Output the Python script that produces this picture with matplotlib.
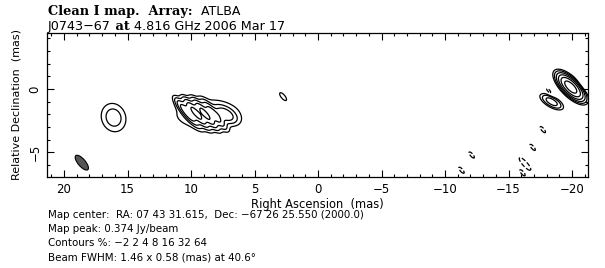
import numpy as np
import matplotlib
matplotlib.use('Agg')
import matplotlib.pyplot as plt
from matplotlib.patches import Ellipse
from matplotlib.ticker import MultipleLocator

# ---- data: model components (RA offset mas, Dec offset mas, peak %, FWHM maj/min mas, PA deg)
comp_ra   = [-19.9, -18.4, 10.3, 9.6, 8.9, 8.2, 8.7, 7.3, 16.1, 2.75]
comp_dec  = [0.15, -1.0, -1.85, -1.9, -1.95, -2.0, -2.0, -2.0, -2.25, -0.6]
comp_peak = [26.0, 12.0, 26.0, 40.0, 38.0, 22.0, 4.0, 12.0, 6.0, 2.4]
comp_peak[0] = 100.0
comp_maj  = [1.55, 1.3, 1.7, 1.7, 1.7, 1.7, 4.8, 1.3, 1.8, 1.46]
comp_min  = [0.65, 0.55, 0.42, 0.42, 0.42, 0.42, 2.2, 0.7, 1.5, 0.58]
comp_pa   = [45.0, 60.0, 40.0, 40.0, 40.0, 40.0, 90.0, 60.0, 20.0, 40.0]

# negative (dashed) spots
neg_ra   = [-12.1, -11.3, -17.7, -16.9, -16.1, -16.5, -16.1, -18.2, -20.8]
neg_dec  = [-5.2, -6.4, -3.2, -4.6, -5.7, -6.1, -6.6, -0.2, 0.3]
neg_peak = [-2.6, -2.6, -2.6, -2.6, -2.6, -2.6, -2.6, -2.6, -2.6]

contour_levels = [-2, 2, 4, 8, 16, 32, 64]

beam_ra, beam_dec = 18.6, -5.8
beam_maj, beam_min, beam_pa = 1.46, 0.58, 40.6

title1_bold = "Clean I map.  Array:"
title1_rest = "  ATLBA"
title2_a = "J0743\u221267"
title2_b = " at "
title2_c = "4.816 GHz 2006 Mar 17"
info_lines = [
    "Map center:  RA: 07 43 31.615,  Dec: \u221267 26 25.550 (2000.0)",
    "Map peak: 0.374 Jy/beam",
    "Contours %: \u22122 2 4 8 16 32 64",
    "Beam FWHM: 1.46 x 0.58 (mas) at 40.6\u00b0",
]

# ---- model image
ra = np.linspace(23, -23, 921)
dec = np.linspace(-8, 6, 281)
RA, DEC = np.meshgrid(ra, dec)
img = np.zeros_like(RA)

def add(x0, y0, pk, mj, mn, pa):
    p = np.deg2rad(pa)
    dx = RA - x0
    dy = DEC - y0
    u = dx * np.sin(p) + dy * np.cos(p)
    v = dx * np.cos(p) - dy * np.sin(p)
    return pk * np.exp(-4 * np.log(2) * (u**2 / mj**2 + v**2 / mn**2))

for i in range(len(comp_ra)):
    img += add(comp_ra[i], comp_dec[i], comp_peak[i], comp_maj[i], comp_min[i], comp_pa[i])
for i in range(len(neg_ra)):
    img += add(neg_ra[i], neg_dec[i], neg_peak[i], 1.0, 0.35, 40.0)

# ---- figure
W, H = 605, 268
fig = plt.figure(figsize=(W / 100, H / 100), dpi=100)
L, R, T, B = 47, 588, 33, 177
ax = fig.add_axes([L / W, 1 - B / H, (R - L) / W, (B - T) / H])

ax.contour(RA, DEC, img, levels=contour_levels, colors='black',
           linewidths=0.9, linestyles=['dashed'] + ['solid'] * 6)

ax.add_patch(Ellipse((beam_ra, beam_dec), beam_maj, beam_min, angle=90 - beam_pa,
                     facecolor='#555555', edgecolor='black', linewidth=0.8))

sans = 'DejaVu Sans'
serif = 'DejaVu Serif'

ax.xaxis.set_major_locator(MultipleLocator(5))
ax.xaxis.set_minor_locator(MultipleLocator(1))
ax.yaxis.set_major_locator(MultipleLocator(5))
ax.yaxis.set_minor_locator(MultipleLocator(1))
ax.tick_params(which='both', direction='in', top=True, right=True, width=0.8)
ax.tick_params(which='major', length=5, labelsize=8.5, pad=4)
ax.tick_params(which='minor', length=2.5)
xt = [20, 15, 10, 5, 0, -5, -10, -15, -20]
yt = [0, -5]
ax.set_xticks(xt)
ax.set_yticks(yt)
ax.set_xticklabels([f"{v:g}".replace('-', '\u2212') for v in xt])
ax.set_yticklabels([f"{v:g}".replace('-', '\u2212') for v in yt], rotation=90, va='center')
ax.set_xlim(21.34, -21.26)
ax.set_ylim(-6.93, 4.41)
for lab in ax.get_xticklabels() + ax.get_yticklabels():
    lab.set_fontfamily(sans)
for sp in ax.spines.values():
    sp.set_linewidth(0.9)

ax.set_xlabel("Right Ascension  (mas)", fontfamily=sans, fontsize=8.3, labelpad=2)
ax.set_ylabel("Relative Declination  (mas)", fontfamily=sans, fontsize=8, labelpad=5)

# titles
t1 = fig.text(48 / W, 1 - 15 / H, title1_bold, fontfamily=serif, fontweight='bold', fontsize=9.3, va='baseline')
a1 = ax.annotate(title1_rest, xy=(1, 0), xycoords=t1, va='bottom', ha='left', fontfamily=sans, fontsize=9,
                 annotation_clip=False)
t2 = fig.text(48 / W, 1 - 30 / H, title2_a, fontfamily=sans, fontsize=9.2, va='baseline')
a2 = ax.annotate(title2_b, xy=(1, 0), xycoords=t2, va='bottom', ha='left', fontfamily=serif, fontweight='bold',
                 fontsize=9.3, annotation_clip=False)
a3 = ax.annotate(title2_c, xy=(1, 0), xycoords=a2, va='bottom', ha='left', fontfamily=sans, fontsize=9.2,
                 annotation_clip=False)

ys = [218, 232, 246, 260]
for s, y in zip(info_lines, ys):
    fig.text(48 / W, 1 - y / H, s, fontfamily=sans, fontsize=7.4, va='baseline')

fig.savefig('out.png', dpi=100)
